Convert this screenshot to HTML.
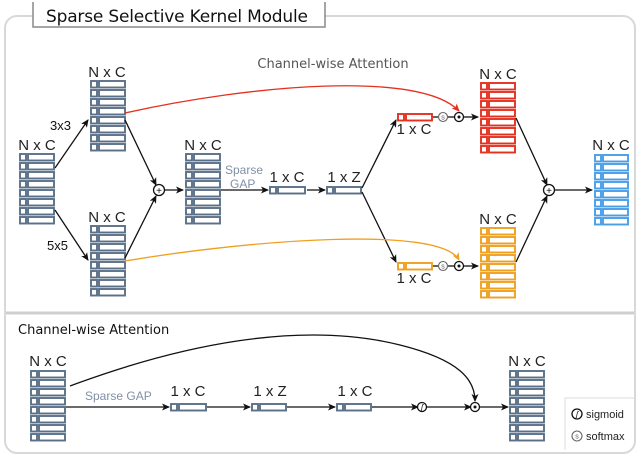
<!DOCTYPE html>
<html><head><meta charset="utf-8"><style>
html,body{margin:0;padding:0;background:#fff;}
svg{display:block;font-family:"Liberation Sans",sans-serif;}
</style></head><body>
<svg id="s" width="640" height="457" viewBox="0 0 640 457" xmlns="http://www.w3.org/2000/svg">
<defs>
<marker id="ak" markerWidth="8" markerHeight="8" refX="7" refY="4" orient="auto" markerUnits="userSpaceOnUse"><path d="M0,0.5 L8,4 L0,7.5 L2,4z" fill="#111"/></marker>
<marker id="ar" markerWidth="8" markerHeight="8" refX="7" refY="4" orient="auto" markerUnits="userSpaceOnUse"><path d="M0,0.5 L8,4 L0,7.5 L2,4z" fill="#e53020"/></marker>
<marker id="ao" markerWidth="8" markerHeight="8" refX="7" refY="4" orient="auto" markerUnits="userSpaceOnUse"><path d="M0,0.5 L8,4 L0,7.5 L2,4z" fill="#f0a020"/></marker>
</defs>
<rect x="5" y="16" width="630" height="437" rx="12" fill="#fff" stroke="#d8d8d8" stroke-width="2"/>
<line x1="6" y1="313" x2="634" y2="313" stroke="#cfcfcf" stroke-width="3"/>
<path d="M33,2 V27 H325 V2" fill="#fff" stroke="#888" stroke-width="1.5"/>
<text x="46" y="22" font-size="17" font-family="DejaVu Sans" fill="#111" textLength="262">Sparse Selective Kernel Module</text>
<text x="333" y="68" font-size="13" fill="#555" text-anchor="middle" font-family="DejaVu Sans">Channel-wise Attention</text>
<text x="18" y="334" font-size="13" fill="#111" font-family="DejaVu Sans">Channel-wise Attention</text>
<g id="g"></g>
<g fill="none" stroke="#111" stroke-width="1.3">
<line x1="55" y1="168" x2="88" y2="120" marker-end="url(#ak)"/>
<line x1="55" y1="210" x2="88" y2="260" marker-end="url(#ak)"/>
<line x1="125" y1="120" x2="156" y2="185" marker-end="url(#ak)"/>
<line x1="125" y1="258" x2="156" y2="196" marker-end="url(#ak)"/>
<line x1="164" y1="190" x2="183" y2="190" marker-end="url(#ak)"/>
<line x1="221" y1="190" x2="268" y2="190" marker-end="url(#ak)"/>
<line x1="307" y1="190" x2="325" y2="190" marker-end="url(#ak)"/>
<line x1="362" y1="188" x2="396" y2="120" marker-end="url(#ak)"/>
<line x1="362" y1="192" x2="396" y2="262" marker-end="url(#ak)"/>
<line x1="463" y1="117" x2="478" y2="117" marker-end="url(#ak)"/>
<line x1="463" y1="266" x2="478" y2="266" marker-end="url(#ak)"/>
<line x1="516" y1="118" x2="547" y2="185" marker-end="url(#ak)"/>
<line x1="516" y1="262" x2="547" y2="196" marker-end="url(#ak)"/>
<line x1="554" y1="190" x2="592" y2="190" marker-end="url(#ak)"/>
<line x1="66" y1="407" x2="169" y2="407" marker-end="url(#ak)"/>
<line x1="207" y1="407" x2="250" y2="407" marker-end="url(#ak)"/>
<line x1="287" y1="407" x2="335" y2="407" marker-end="url(#ak)"/>
<line x1="372" y1="407" x2="418" y2="407" marker-end="url(#ak)"/>
<line x1="426" y1="407" x2="471" y2="407" marker-end="url(#ak)"/>
<line x1="479" y1="407" x2="508" y2="407" marker-end="url(#ak)"/>
<path d="M70,386 C180,345 300,320 400,345 C460,360 475,380 475,401" marker-end="url(#ak)"/>
<line x1="433" y1="117" x2="439" y2="117"/><line x1="447" y1="117" x2="455" y2="117"/>
<line x1="433" y1="266" x2="439" y2="266"/><line x1="447" y1="266" x2="455" y2="266"/>
</g>
<path d="M125,113 C250,85 420,70 459,111" fill="none" stroke="#e53020" stroke-width="1.3" marker-end="url(#ar)"/>
<path d="M125,261 C250,240 440,225 459,260" fill="none" stroke="#f0a020" stroke-width="1.3" marker-end="url(#ao)"/>
<g fill="#fff" stroke="#111" stroke-width="1.3">
<circle cx="159" cy="190" r="5.5"/><circle cx="549" cy="190" r="5.5"/>
<circle cx="459" cy="117" r="4.5"/><circle cx="459" cy="266" r="4.5"/>
<circle cx="475" cy="407" r="4.5"/><circle cx="422" cy="407" r="4.5"/>
<circle cx="577" cy="414" r="5"/>
</g>
<g fill="#fff" stroke="#666" stroke-width="1.1">
<circle cx="443" cy="117" r="4.5"/><circle cx="443" cy="266" r="4.5"/><circle cx="577" cy="436" r="5"/>
</g>
<g fill="#111"><circle cx="459" cy="117" r="1.5"/><circle cx="459" cy="266" r="1.5"/><circle cx="475" cy="407" r="1.5"/></g>
<g font-size="10" fill="#111" text-anchor="middle">
<text x="159" y="194">+</text><text x="549" y="194">+</text>
</g>
<g font-size="7" fill="#555" text-anchor="middle"><text x="443" y="119.5">s</text><text x="443" y="268.5">s</text><text x="577" y="438.5">s</text></g>
<g font-size="8" fill="#111" text-anchor="middle"><text x="422" y="410" font-style="italic">ʃ</text><text x="577" y="417" font-style="italic">ʃ</text></g>
<path d="M565,450 V398 H634" fill="none" stroke="#ddd"/>
<g font-size="11" fill="#222"><text x="586" y="418">sigmoid</text><text x="586" y="440">softmax</text></g>
<g font-size="15" fill="#222" text-anchor="middle">
<text x="37" y="150">N x C</text><text x="107" y="77">N x C</text><text x="107" y="222">N x C</text>
<text x="203" y="150">N x C</text><text x="287" y="182">1 x C</text><text x="344" y="182">1 x Z</text>
<text x="414" y="134">1 x C</text><text x="414" y="283">1 x C</text>
<text x="498" y="79">N x C</text><text x="498" y="224">N x C</text><text x="611" y="150">N x C</text>
<text x="48" y="366">N x C</text><text x="527" y="366">N x C</text>
<text x="188" y="396">1 x C</text><text x="270" y="396">1 x Z</text><text x="355" y="396">1 x C</text>
</g>
<g font-size="13" fill="#111"><text x="50" y="130">3x3</text><text x="47" y="250">5x5</text></g>
<g font-size="12" fill="#8090a8"><text x="225" y="174">Sparse</text><text x="230" y="188">GAP</text><text x="85" y="400">Sparse GAP</text></g>
</svg>
<script>
var g=document.getElementById('g'),ns='http://www.w3.org/2000/svg';
function r(x,y,w,h,c){var e=document.createElementNS(ns,'rect');e.setAttribute('x',x);e.setAttribute('y',y);e.setAttribute('width',w);e.setAttribute('height',h);e.setAttribute('fill','#fff');e.setAttribute('stroke',c);e.setAttribute('stroke-width','1.9');g.appendChild(e);}
function bar(x,y,w,c){r(x+1,y+1,6,6.5,c);r(x+9,y+1,w-10,6.5,c);}
function stack(x,y,w,c){for(var i=0;i<8;i++)bar(x,y+i*9,w,c);}
var B='#5a7088';
stack(19,153,36,B);stack(90,80,36,B);stack(90,225,36,B);stack(185,153,36,B);
stack(480,82,36,'#e53020');stack(480,227,36,'#f0a020');stack(594,154,35,'#4a9ee8');
stack(30,370,36,B);stack(509,370,36,B);
bar(269,186,37,B);bar(326,186,36,B);
bar(397,113,36,'#e53020');bar(397,262,36,'#f0a020');
bar(170,403,37,B);bar(251,403,36,B);bar(336,403,36,B);
</script>
</body></html>
